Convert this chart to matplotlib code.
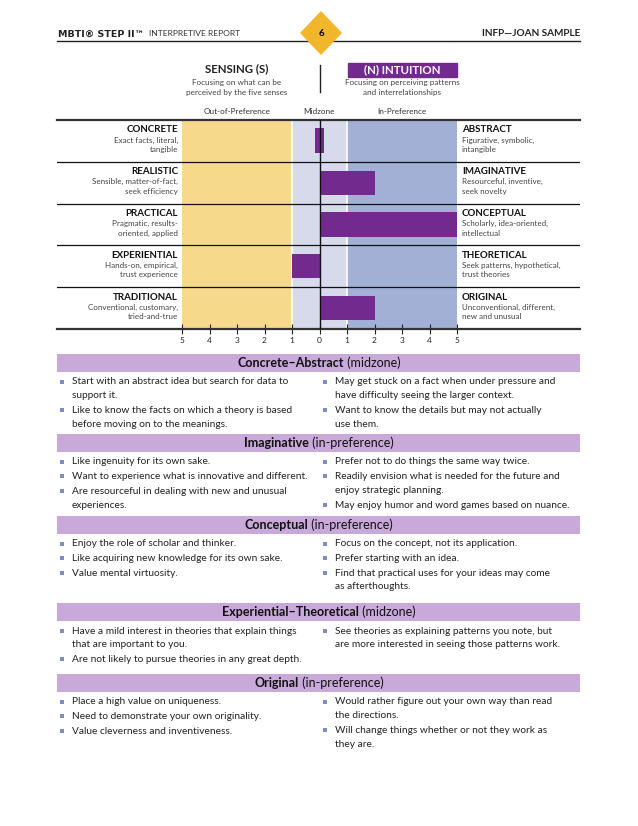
import matplotlib
matplotlib.use('Agg')
import matplotlib.pyplot as plt
from matplotlib.patches import Polygon, Rectangle

plt.rcParams['font.family'] = ['Lato', 'DejaVu Sans']

# --- data ---
tick_values = [-5, -4, -3, -2, -1, 0, 1, 2, 3, 4, 5]
tick_labels = ['5', '4', '3', '2', '1', '0', '1', '2', '3', '4', '5']

left_poles = ['CONCRETE', 'REALISTIC', 'PRACTICAL', 'EXPERIENTIAL', 'TRADITIONAL']
left_desc = [['Exact facts, literal,', 'tangible'],
             ['Sensible, matter-of-fact,', 'seek efficiency'],
             ['Pragmatic, results-', 'oriented, applied'],
             ['Hands-on, empirical,', 'trust experience'],
             ['Conventional, customary,', 'tried-and-true']]
right_poles = ['ABSTRACT', 'IMAGINATIVE', 'CONCEPTUAL', 'THEORETICAL', 'ORIGINAL']
right_desc = [['Figurative, symbolic,', 'intangible'],
              ['Resourceful, inventive,', 'seek novelty'],
              ['Scholarly, idea-oriented,', 'intellectual'],
              ['Seek patterns, hypothetical,', 'trust theories'],
              ['Unconventional, different,', 'new and unusual']]
scores = [0, 2, 5, -1, 2]

section_titles = ['Concrete\u2013Abstract', 'Imaginative', 'Conceptual',
                  'Experiential\u2013Theoretical', 'Original']
section_zones = ['(midzone)', '(in-preference)', '(in-preference)',
                 '(midzone)', '(in-preference)']
section_left = [
    ['Start with an abstract idea but search for data to\nsupport it.',
     'Like to know the facts on which a theory is based\nbefore moving on to the meanings.'],
    ['Like ingenuity for its own sake.',
     'Want to experience what is innovative and different.',
     'Are resourceful in dealing with new and unusual\nexperiences.'],
    ['Enjoy the role of scholar and thinker.',
     'Like acquiring new knowledge for its own sake.',
     'Value mental virtuosity.'],
    ['Have a mild interest in theories that explain things\nthat are important to you.',
     'Are not likely to pursue theories in any great depth.'],
    ['Place a high value on uniqueness.',
     'Need to demonstrate your own originality.',
     'Value cleverness and inventiveness.'],
]
section_right = [
    ['May get stuck on a fact when under pressure and\nhave difficulty seeing the larger context.',
     'Want to know the details but may not actually\nuse them.'],
    ['Prefer not to do things the same way twice.',
     'Readily envision what is needed for the future and\nenjoy strategic planning.',
     'May enjoy humor and word games based on nuance.'],
    ['Focus on the concept, not its application.',
     'Prefer starting with an idea.',
     'Find that practical uses for your ideas may come\nas afterthoughts.'],
    ['See theories as explaining patterns you note, but\nare more interested in seeing those patterns work.'],
    ['Would rather figure out your own way than read\nthe directions.',
     'Will change things whether or not they work as\nthey are.'],
]

# --- colours ---
yellow = '#f6d98a'
lavender = '#d7daeb'
blue = '#a3b0d6'
purple = '#732a8f'
band_col = '#c9a8da'
gold = '#f1b62c'
bullet_col = '#7d8fc0'

W, H = 638, 826
fig = plt.figure(figsize=(W / 100, H / 100), dpi=100)
renderer = fig.canvas.get_renderer()

# page axes in pixel coordinates
page = fig.add_axes([0, 0, 1, 1])
page.set_xlim(0, W)
page.set_ylim(H, 0)
page.axis('off')

# header
page.plot([57, 580], [41, 41], color='#222222', lw=1.0)
hd = page.text(58, 36.5, 'MBTI\u00ae STEP II\u2122', fontsize=6.8,
               fontweight='bold', family='DejaVu Sans', va='baseline',
               ha='left', color='#222222')
hw = hd.get_window_extent(renderer).width
page.text(58 + hw + 5, 36.5, 'INTERPRETIVE REPORT', fontsize=6.1,
          va='baseline', ha='left', color='#333333')
page.text(580, 36.5, 'INFP\u2014JOAN SAMPLE', fontsize=7.2, fontweight='bold',
          va='baseline', ha='right', color='#222222')
page.add_patch(Polygon([[321, 12], [341, 33], [321, 54], [301, 33]],
                       closed=True, color=gold, zorder=3))
page.text(321, 33, '6', fontsize=7, fontweight='bold', ha='center',
          va='center', zorder=4)

# pole headings
page.text(237, 69, 'SENSING (S)', fontsize=8.3, fontweight='bold',
          ha='center', va='center', color='#222222')
page.text(237, 82, 'Focusing on what can be', fontsize=5.9, ha='center',
          va='center', color='#444444')
page.text(237, 92, 'perceived by the five senses', fontsize=5.9,
          ha='center', va='center', color='#444444')
page.plot([320, 320], [65, 92], color='#222222', lw=1.0)
page.add_patch(Rectangle((348, 63), 109, 13.5, color=purple))
page.text(402.5, 70, '(N) INTUITION', fontsize=8.3, fontweight='bold',
          ha='center', va='center', color='white')
page.text(402, 82, 'Focusing on perceiving patterns', fontsize=5.9,
          ha='center', va='center', color='#444444')
page.text(402, 92, 'and interrelationships', fontsize=5.9,
          ha='center', va='center', color='#444444')

page.text(237, 112, 'Out-of-Preference', fontsize=5.9, ha='center',
          va='center', color='#333333')
page.text(319, 112, 'Midzone', fontsize=5.9, ha='center', va='center',
          color='#333333')
page.text(402, 112, 'In-Preference', fontsize=5.9, ha='center',
          va='center', color='#333333')

# --- chart ---
top, bottom = 120, 329
x_left, x_right = 57, 580
x5l, x5r = 182, 457
unit = (x5r - x5l) / 10
ax = fig.add_axes([x_left / W, 1 - bottom / H, (x_right - x_left) / W,
                   (bottom - top) / H])
ax.set_facecolor('none')
ax.set_xlim(-5 - (x5l - x_left) / unit, 5 + (x_right - x5r) / unit)
n = len(scores)
ax.set_ylim(n, 0)

ax.axvspan(-5, -1, color=yellow, lw=0, zorder=0)
ax.axvspan(-1, 1, color=lavender, lw=0, zorder=0)
ax.axvspan(1, 5, color=blue, lw=0, zorder=0)
ax.axvline(-1, color='white', lw=1.2, zorder=1)
ax.axvline(1, color='white', lw=1.2, zorder=1)

for i, s in enumerate(scores):
    if s == 0:
        ax.barh(i + 0.5, 0.32, left=-0.16, height=0.6, color=purple, zorder=3)
    else:
        ax.barh(i + 0.5, s, left=0, height=0.58, color=purple, zorder=3)

for i in range(1, n):
    ax.axhline(i, color='#111111', lw=0.9, zorder=4)
ax.axvline(0, color='#111111', lw=1.0, zorder=4)

for side in ['left', 'right']:
    ax.spines[side].set_visible(False)
for side in ['top', 'bottom']:
    ax.spines[side].set_linewidth(1.6)
    ax.spines[side].set_color('#333333')
ax.set_yticks([])
ax.set_xticks(tick_values)
ax.set_xticklabels(tick_labels)
ax.tick_params(axis='x', direction='inout', length=7, width=0.8,
               labelsize=6, pad=2, colors='#222222')

row_h = (bottom - top) / n
for i in range(n):
    y0 = top + i * row_h
    page.text(178, y0 + 10, left_poles[i], fontsize=7.0, fontweight='bold',
              ha='right', va='center', color='#111111')
    page.text(462, y0 + 10, right_poles[i], fontsize=7.0, fontweight='bold',
              ha='left', va='center', color='#111111')
    for k in range(2):
        page.text(178, y0 + 20 + k * 9.5, left_desc[i][k], fontsize=5.8,
                  ha='right', va='center', color='#444444')
        page.text(462, y0 + 20 + k * 9.5, right_desc[i][k], fontsize=5.8,
                  ha='left', va='center', color='#444444')

# --- descriptive sections ---
band_centers = [363, 443, 525, 612, 683]
line_h = 13.8
for j, yc in enumerate(band_centers):
    page.add_patch(Rectangle((57, yc - 9), 523, 18, color=band_col, lw=0))
    t1 = page.text(0, yc, section_titles[j], fontsize=9, fontweight='bold',
                   ha='left', va='center', color='#111111')
    t2 = page.text(0, yc, ' ' + section_zones[j], fontsize=9,
                   ha='left', va='center', color='#111111')
    w1 = t1.get_window_extent(renderer).width
    w2 = t2.get_window_extent(renderer).width
    x0 = 319 - (w1 + w2) / 2
    t1.set_x(x0)
    t2.set_x(x0 + w1)
    for col, items in enumerate([section_left[j], section_right[j]]):
        bx = 62 if col == 0 else 325
        y = yc + 19
        for item in items:
            page.add_patch(Rectangle((bx - 2, y - 2.5), 4.2, 4.2,
                                     color=bullet_col, lw=0))
            for ln in item.split('\n'):
                page.text(bx + 10, y, ln, fontsize=7.3, ha='left',
                          va='center', color='#222222')
                y += line_h
            y += 0.8

fig.savefig('out.png', dpi=100)
